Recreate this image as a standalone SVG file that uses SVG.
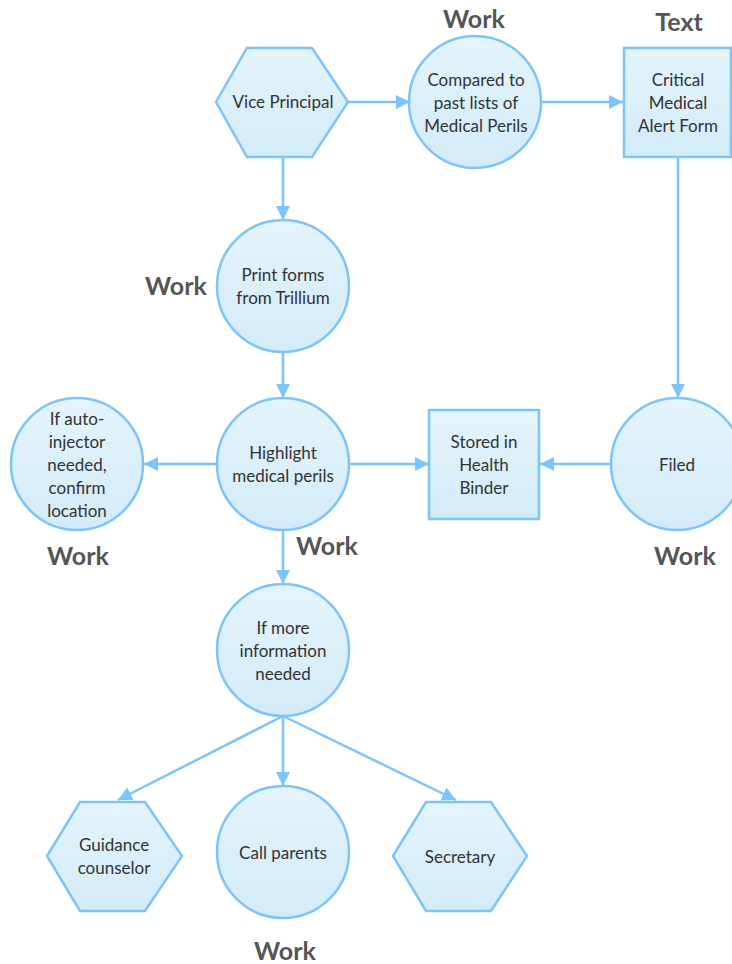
<svg xmlns="http://www.w3.org/2000/svg" width="732" height="964" viewBox="0 0 732 964">
<defs>
<linearGradient id="g" x1="0" y1="0" x2="0" y2="1">
<stop offset="0" stop-color="#e4f4fb"/>
<stop offset="1" stop-color="#d3ebf9"/>
</linearGradient>
<marker id="ah" markerUnits="userSpaceOnUse" markerWidth="16" markerHeight="16" refX="14" refY="7" orient="auto">
<path d="M0,0 L14,7 L0,14 z" fill="#7cc4fa"/>
</marker>
</defs>
<style>
.s{fill:url(#g);stroke:#7cc4fa;stroke-width:2.5}
.t{font-family:Lato,"Open Sans","Liberation Sans",sans-serif;font-size:17px;fill:#333;text-anchor:middle}
.w{font-family:Lato,"Open Sans","Liberation Sans",sans-serif;font-size:25px;font-weight:bold;fill:#555;text-anchor:middle}
.c{stroke:#7cc4fa;stroke-width:2.5;fill:none;marker-end:url(#ah)}
</style>
<rect width="732" height="964" fill="#fff"/>
<g id="connectors">
<line class="c" x1="348" y1="102" x2="410" y2="102"/>
<line class="c" x1="540" y1="102" x2="623" y2="102"/>
<line class="c" x1="283" y1="157" x2="283" y2="220"/>
<line class="c" x1="283" y1="352" x2="283" y2="398"/>
<line class="c" x1="217" y1="464" x2="144" y2="464"/>
<line class="c" x1="349" y1="464" x2="429" y2="464"/>
<line class="c" x1="611" y1="464" x2="540" y2="464"/>
<line class="c" x1="678" y1="157" x2="678" y2="398"/>
<line class="c" x1="283" y1="530" x2="283" y2="584"/>
<line class="c" x1="283" y1="716" x2="283" y2="786"/>
<line class="c" x1="283" y1="716" x2="118" y2="800"/>
<line class="c" x1="283" y1="716" x2="456" y2="800"/>
</g>
<g id="vice-principal">
<polygon class="s" points="216,102 247,48 312,48 348,102 312,157 247,157"/>
<text class="t" x="283" y="108">Vice Principal</text>
</g>
<g id="compared">
<circle class="s" cx="475" cy="102" r="66"/>
<text class="t" x="476" y="86">Compared to</text>
<text class="t" x="476" y="109">past lists of</text>
<text class="t" x="476" y="132">Medical Perils</text>
<text class="w" x="474" y="28">Work</text>
</g>
<g id="critical-form">
<rect class="s" x="624" y="48" width="107" height="109"/>
<text class="t" x="678" y="86">Critical</text>
<text class="t" x="678" y="109">Medical</text>
<text class="t" x="678" y="132">Alert Form</text>
<text class="w" x="679" y="31">Text</text>
</g>
<g id="print-forms">
<circle class="s" cx="283" cy="286" r="66"/>
<text class="t" x="283" y="281">Print forms</text>
<text class="t" x="283" y="304">from Trillium</text>
<text class="w" x="176" y="295">Work</text>
</g>
<g id="highlight">
<circle class="s" cx="283" cy="464" r="66"/>
<text class="t" x="283" y="459">Highlight</text>
<text class="t" x="283" y="482">medical perils</text>
<text class="w" x="327" y="555">Work</text>
</g>
<g id="auto-injector">
<circle class="s" cx="77" cy="464" r="66"/>
<text class="t" x="77" y="425">If auto-</text>
<text class="t" x="77" y="448">injector</text>
<text class="t" x="77" y="471">needed,</text>
<text class="t" x="77" y="494">confirm</text>
<text class="t" x="77" y="517">location</text>
<text class="w" x="78" y="565">Work</text>
</g>
<g id="stored">
<rect class="s" x="429" y="410" width="110" height="109"/>
<text class="t" x="484" y="448">Stored in</text>
<text class="t" x="484" y="471">Health</text>
<text class="t" x="484" y="494">Binder</text>
</g>
<g id="filed">
<circle class="s" cx="677" cy="464" r="66"/>
<text class="t" x="677" y="471">Filed</text>
<text class="w" x="685" y="565">Work</text>
</g>
<g id="more-info">
<circle class="s" cx="283" cy="650" r="66"/>
<text class="t" x="283" y="634">If more</text>
<text class="t" x="283" y="657">information</text>
<text class="t" x="283" y="680">needed</text>
</g>
<g id="guidance">
<polygon class="s" points="47,856 80,802 145,802 182,856 145,911 80,911"/>
<text class="t" x="114" y="851">Guidance</text>
<text class="t" x="114" y="874">counselor</text>
</g>
<g id="call-parents">
<circle class="s" cx="283" cy="852" r="66"/>
<text class="t" x="283" y="859">Call parents</text>
<text class="w" x="285" y="960">Work</text>
</g>
<g id="secretary">
<polygon class="s" points="393,856 426,802 491,802 527,856 491,911 426,911"/>
<text class="t" x="460" y="863">Secretary</text>
</g>
</svg>
